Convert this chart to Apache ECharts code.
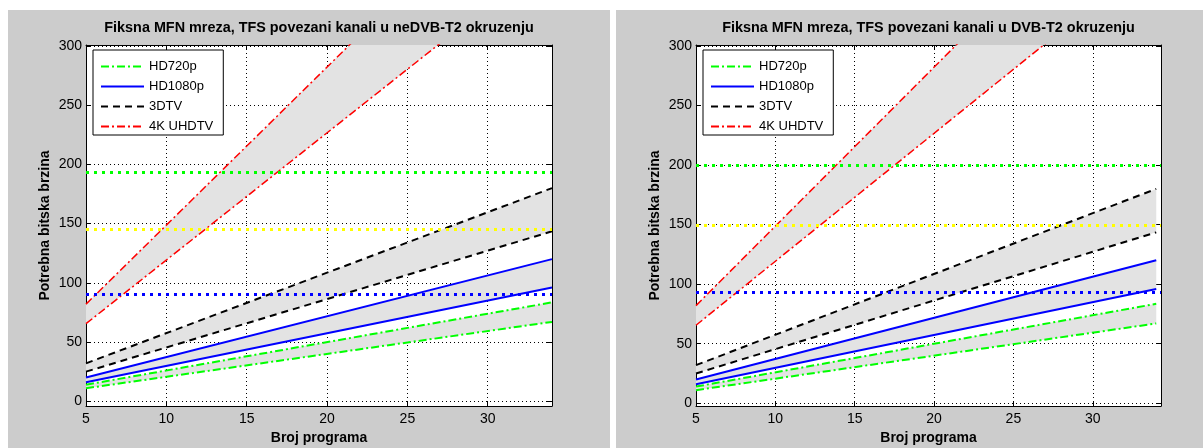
<!DOCTYPE html>
<html><head><meta charset="utf-8">
<script src="https://cdn.jsdelivr.net/npm/echarts@6/dist/echarts.min.js"></script>
<style>
html,body{margin:0;padding:0;background:#fff;}
#wrap{position:relative;width:1203px;height:448px;overflow:hidden;}
.panel{position:absolute;background:#cccccc;}
#c{position:absolute;left:0;top:0;width:1203px;height:448px;}
</style>
</head><body>
<div id="wrap">
<div class="panel" style="left:8px;top:10px;width:602px;height:438px;"></div>
<div class="panel" style="left:616px;top:10px;width:587px;height:438px;"></div>
<div id="c"></div>
</div>
<script>
// ---- data ----
const programs = [5, 34];                 // Broj programa (x)
const hd720pUpper = [14, 83.5];
const hd720pLower = [11, 67];
const hd1080pUpper = [20, 120];
const hd1080pLower = [16, 96];
const tdtvUpper = [32, 180];
const tdtvLower = [25, 143.5];
const uhdUpper = [82, 469];
const uhdLower = [65.5, 377];
// horizontal capacity levels: green, yellow, blue
const capacityLeft = [193.5, 145.2, 90.5];
const capacityRight = [199.5, 149.5, 93.2];
const xTicks = [5, 10, 15, 20, 25, 30];
const yTicks = [0, 50, 100, 150, 200, 250, 300];
const titles = ['Fiksna MFN mreza, TFS povezani kanali u neDVB-T2 okruzenju',
                'Fiksna MFN mreza, TFS povezani kanali u DVB-T2 okruzenju'];
const legendNames = ['HD720p', 'HD1080p', '3DTV', '4K UHDTV'];
const xName = 'Broj programa';
const yName = 'Potrebna bitska brzina';

// ---- styles / layout ----
const FONT = '"Liberation Sans", Arial, sans-serif';
const panels = [
  {left: 86, top: 45, width: 466, height: 361, xMax: 34, yMin: -4, yMax: 300.8, caps: capacityLeft, title: titles[0]},
  {left: 696, top: 45, width: 465, height: 361, xMax: 34.3, yMin: -2.3, yMax: 300.8, caps: capacityRight, title: titles[1]}
];
const groups = [
  {name: legendNames[0], up: hd720pUpper, lo: hd720pLower, color: '#00ff00', type: [8, 3, 2, 3], width: 2},
  {name: legendNames[1], up: hd1080pUpper, lo: hd1080pLower, color: '#0000ff', type: 'solid', width: 2},
  {name: legendNames[2], up: tdtvUpper, lo: tdtvLower, color: '#000000', type: [7, 5], width: 2},
  {name: legendNames[3], up: uhdUpper, lo: uhdLower, color: '#ff0000', type: [8, 3, 2, 3], width: 1.5}
];
const capColors = ['#00ff00', '#ffff00', '#0000ff'];

const pairs = arr => arr.map((v, i) => [programs[i], v]);
// one row per band: x0, x1, lower0, lower1, upper0, upper1
const bandRows = groups.map(g => [programs[0], programs[1], g.lo[0], g.lo[1], g.up[0], g.up[1]]);

const grid = [], xAxis = [], yAxis = [], series = [], legend = [], graphic = [];
panels.forEach((p, pi) => {
  grid.push({left: p.left, top: p.top, width: p.width, height: p.height,
    outerBoundsMode: 'none', containLabel: false,
    show: true, backgroundColor: '#ffffff', borderWidth: 0});
  const tick = {show: true, inside: true, length: 5, lineStyle: {color: '#000', width: 1}};
  xAxis.push({type: 'value', gridIndex: pi, min: 5, max: p.xMax, position: 'bottom',
    axisLine: {show: true, onZero: false, lineStyle: {color: '#000', width: 1}},
    axisTick: Object.assign({customValues: xTicks}, tick),
    axisLabel: {customValues: xTicks, color: '#000', fontSize: 14, fontFamily: FONT, margin: 6},
    splitLine: {show: true, lineStyle: {color: '#000', width: 1, type: [1, 3]}},
    name: xName, nameLocation: 'middle', nameGap: 25,
    nameTextStyle: {fontWeight: 'bold', fontSize: 14, fontFamily: FONT, color: '#000'}});
  xAxis.push({type: 'value', gridIndex: pi, min: 5, max: p.xMax, position: 'top',
    axisLine: {show: true, onZero: false, lineStyle: {color: '#000', width: 1}},
    axisTick: Object.assign({customValues: xTicks}, tick),
    axisLabel: {show: false}, splitLine: {show: false}});
  yAxis.push({type: 'value', gridIndex: pi, min: p.yMin, max: p.yMax, position: 'left',
    axisLine: {show: true, onZero: false, lineStyle: {color: '#000', width: 1}},
    axisTick: Object.assign({customValues: yTicks}, tick),
    axisLabel: {customValues: yTicks, color: '#000', fontSize: 14, fontFamily: FONT, margin: 4},
    splitLine: {show: true, lineStyle: {color: '#000', width: 1, type: [1, 3]}},
    name: yName, nameLocation: 'middle', nameGap: 34,
    nameTextStyle: {fontWeight: 'bold', fontSize: 14, fontFamily: FONT, color: '#000'}});
  yAxis.push({type: 'value', gridIndex: pi, min: p.yMin, max: p.yMax, position: 'right',
    axisLine: {show: true, onZero: false, lineStyle: {color: '#000', width: 1}},
    axisTick: Object.assign({customValues: yTicks}, tick),
    axisLabel: {show: false}, splitLine: {show: false}});
  const xi = pi * 2, yi = pi * 2;
  // shaded bands between lower and upper bounds
  series.push({type: 'custom', xAxisIndex: xi, yAxisIndex: yi, clip: true, silent: true, z: 1,
    data: bandRows, encode: {x: [0, 1], y: [2, 3, 4, 5]},
    renderItem: (params, api) => {
      const pts = [
        api.coord([api.value(0), api.value(2)]),
        api.coord([api.value(1), api.value(3)]),
        api.coord([api.value(1), api.value(5)]),
        api.coord([api.value(0), api.value(4)])
      ];
      return {type: 'polygon', shape: {points: pts}, style: {fill: '#e3e3e3', stroke: null}};
    }});
  // capacity levels
  series.push({type: 'line', xAxisIndex: xi, yAxisIndex: yi, data: [], symbol: 'none', z: 3,
    markLine: {silent: true, symbol: ['none', 'none'], animation: false, label: {show: false},
      data: p.caps.map((v, i) => ({yAxis: v, lineStyle: {color: capColors[i], width: 3, type: [3, 5], cap: 'butt'}}))}});
  // bounding lines
  groups.forEach(g => {
    [g.up, g.lo].forEach(arr => {
      series.push({type: 'line', name: g.name, xAxisIndex: xi, yAxisIndex: yi, symbol: 'none', z: 4,
        data: pairs(arr), animation: false,
        lineStyle: {color: g.color, width: g.width, type: g.type}, itemStyle: {color: g.color}});
    });
  });
  legend.push({data: legendNames, orient: 'vertical', left: p.left + 7, top: 50,
    itemWidth: 43, itemHeight: 14, itemGap: 7, selectedMode: false,
    itemStyle: {opacity: 0},
    padding: [10, 10, 2, 7], borderColor: '#000', borderWidth: 1, backgroundColor: '#fff',
    textStyle: {fontSize: 13, fontFamily: FONT, color: '#000'}});
  graphic.push({type: 'text', x: p.left + p.width / 2, y: 28, z: 10,
    style: {text: p.title, fill: '#000', font: 'bold 14.4px ' + FONT, textAlign: 'center', textVerticalAlign: 'middle'}});
});

const chart = echarts.init(document.getElementById('c'), null, {renderer: 'canvas'});
chart.setOption({animation: false, backgroundColor: 'transparent', grid, xAxis, yAxis, series, legend, graphic});
</script>
</body></html>
